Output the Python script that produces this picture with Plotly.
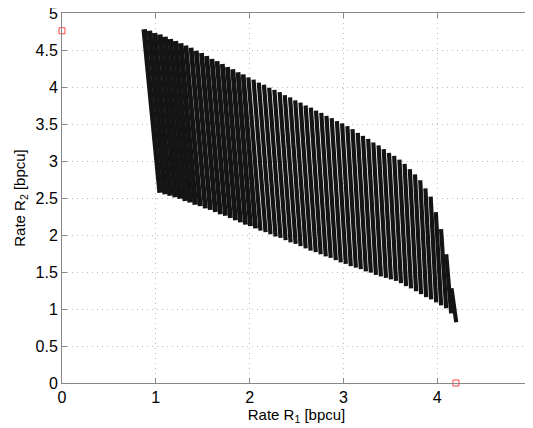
import plotly.graph_objects as go

# Each stripe (curve) of the region: upper end and lower end
top_r1 = [0.876, 0.932, 0.987, 1.043, 1.098, 1.154, 1.209, 1.265, 1.320, 1.376,
          1.431, 1.487, 1.542, 1.598, 1.653, 1.709, 1.764, 1.820, 1.876, 1.931,
          1.987, 2.042, 2.098, 2.153, 2.209, 2.264, 2.320, 2.375, 2.431, 2.486,
          2.542, 2.597, 2.653, 2.708, 2.764, 2.819, 2.875, 2.931, 2.986, 3.042,
          3.097, 3.153, 3.208, 3.264, 3.319, 3.375, 3.430, 3.486, 3.541, 3.597,
          3.652, 3.708, 3.763, 3.819, 3.874, 3.930, 3.985, 4.041, 4.096, 4.152]
top_r2 = [4.78, 4.76, 4.73, 4.71, 4.68, 4.65, 4.62, 4.59, 4.56, 4.53,
          4.49, 4.46, 4.42, 4.38, 4.35, 4.31, 4.27, 4.24, 4.20, 4.17,
          4.13, 4.10, 4.06, 4.03, 3.99, 3.96, 3.93, 3.89, 3.86, 3.82,
          3.79, 3.75, 3.72, 3.68, 3.65, 3.61, 3.58, 3.54, 3.51, 3.47,
          3.43, 3.38, 3.34, 3.30, 3.25, 3.21, 3.16, 3.11, 3.07, 3.02,
          2.96, 2.89, 2.82, 2.74, 2.63, 2.52, 2.31, 2.08, 1.74, 1.28]
bot_r1 = [1.046, 1.100, 1.153, 1.207, 1.260, 1.314, 1.367, 1.421, 1.474, 1.528,
          1.581, 1.635, 1.688, 1.742, 1.795, 1.849, 1.902, 1.956, 2.009, 2.063,
          2.116, 2.170, 2.223, 2.277, 2.330, 2.384, 2.437, 2.491, 2.544, 2.598,
          2.651, 2.705, 2.758, 2.812, 2.865, 2.919, 2.972, 3.026, 3.079, 3.133,
          3.186, 3.240, 3.293, 3.347, 3.400, 3.454, 3.507, 3.561, 3.614, 3.668,
          3.721, 3.775, 3.828, 3.882, 3.935, 3.989, 4.042, 4.096, 4.149, 4.203]
bot_r2 = [2.57, 2.55, 2.53, 2.51, 2.49, 2.46, 2.44, 2.41, 2.39, 2.36,
          2.34, 2.31, 2.28, 2.26, 2.23, 2.20, 2.17, 2.14, 2.12, 2.09,
          2.06, 2.04, 2.01, 1.98, 1.96, 1.93, 1.90, 1.88, 1.85, 1.82,
          1.79, 1.77, 1.74, 1.71, 1.69, 1.66, 1.63, 1.61, 1.58, 1.56,
          1.54, 1.51, 1.49, 1.46, 1.44, 1.42, 1.40, 1.38, 1.35, 1.31,
          1.28, 1.24, 1.20, 1.16, 1.13, 1.09, 1.05, 1.01, 0.94, 0.82]

# Single-user points (red squares)
corner_r1 = [0.0, 4.2]
corner_r2 = [4.76, 0.0]

x_ticks = [0, 1, 2, 3, 4, 5]
y_ticks = [0, 0.5, 1, 1.5, 2, 2.5, 3, 3.5, 4, 4.5, 5]

FONT = "Liberation Sans, Arial, Helvetica"

fig = go.Figure()
n = len(top_r1)
for i in range(n):
    w = 5.4 if i < 8 else (4.8 if i < 20 else 4.2)
    fig.add_trace(go.Scatter(
        x=[top_r1[i], bot_r1[i]], y=[top_r2[i], bot_r2[i]],
        mode="lines", line=dict(color="#141414", width=w),
        showlegend=False, hoverinfo="skip"))

fig.add_trace(go.Scatter(
    x=corner_r1, y=corner_r2, mode="markers",
    marker=dict(symbol="square-open", size=6, color="#ff4040",
                line=dict(width=1, color="#ff4040")),
    showlegend=False, cliponaxis=False))

axis_common = dict(
    showline=True, linecolor="#888888", linewidth=1, mirror="ticks",
    ticks="inside", ticklen=5, tickcolor="#888888",
    showgrid=True, gridcolor="#bdbdbd", griddash="1px,4px", gridwidth=1,
    zeroline=False, ticklabeloverflow="allow",
    tickfont=dict(family=FONT, size=16, color="black"),
)

fig.update_layout(
    width=525, height=420,
    margin=dict(l=54, r=2, t=5, b=45),
    paper_bgcolor="white", plot_bgcolor="white",
    xaxis=dict(range=[0, 5], tickvals=x_ticks, ticktext=[str(v) for v in x_ticks],
               title=dict(text="Rate R<sub>1</sub> [bpcu]", standoff=0,
                          font=dict(family=FONT, size=15, color="black")),
               automargin=False, **axis_common),
    yaxis=dict(range=[0, 5], tickvals=y_ticks, ticktext=[("%g" % v) for v in y_ticks],
               title=dict(text="Rate R<sub>2</sub> [bpcu]", standoff=6,
                          font=dict(family=FONT, size=15, color="black")),
               automargin=False, **axis_common),
)

fig.write_html("out.html")
